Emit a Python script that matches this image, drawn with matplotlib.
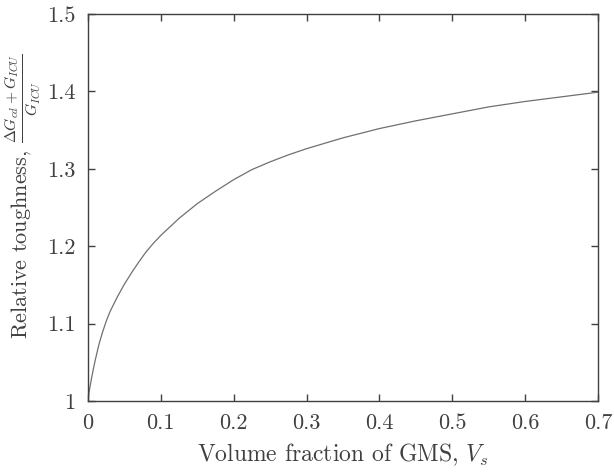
import matplotlib
matplotlib.use("Agg")
import matplotlib.pyplot as plt

plt.rcParams['font.family'] = 'serif'
plt.rcParams['font.serif'] = ['cmr10']
plt.rcParams['mathtext.fontset'] = 'cm'
plt.rcParams['axes.unicode_minus'] = False

# relative toughness vs GMS volume fraction
vs = [0, 0.001, 0.0025, 0.005, 0.0075, 0.01, 0.015, 0.02, 0.025, 0.03,
      0.04, 0.05, 0.06, 0.07, 0.08, 0.09, 0.1, 0.125, 0.15, 0.175, 0.2,
      0.225, 0.25, 0.275, 0.3, 0.35, 0.4, 0.45, 0.5, 0.55, 0.6, 0.65, 0.7]
toughness = [1.000, 1.008, 1.017, 1.030, 1.042, 1.053, 1.073, 1.089, 1.103,
             1.115, 1.134, 1.151, 1.166, 1.180, 1.193, 1.204, 1.214, 1.236,
             1.255, 1.271, 1.286, 1.299, 1.309, 1.318, 1.326, 1.340, 1.352,
             1.362, 1.371, 1.380, 1.387, 1.393, 1.399]

xticks = [0, 0.1, 0.2, 0.3, 0.4, 0.5, 0.6, 0.7]
xticklabels = ['0', '0.1', '0.2', '0.3', '0.4', '0.5', '0.6', '0.7']
yticks = [1, 1.1, 1.2, 1.3, 1.4, 1.5]
yticklabels = ['1', '1.1', '1.2', '1.3', '1.4', '1.5']

dark = '#404040'

fig = plt.figure(figsize=(6.14, 4.75), dpi=100)
ax = fig.add_axes([0.1433, 0.1558, 0.8307, 0.8147])

ax.plot(vs, toughness, color='#707070', lw=0.9)

ax.set_xlim(0, 0.7)
ax.set_ylim(1, 1.5)
ax.set_xticks(xticks)
ax.set_xticklabels(xticklabels)
ax.set_yticks(yticks)
ax.set_yticklabels(yticklabels)

ax.tick_params(direction='in', top=True, right=True, length=5, width=1,
               color=dark, labelcolor=dark, labelsize=16, pad=9)
for s in ax.spines.values():
    s.set_color(dark)
    s.set_linewidth(1)

ax.set_xlabel(r'Volume fraction of GMS, $V_s$', fontsize=17, color=dark,
              labelpad=6)
ax.set_ylabel(r'Relative toughness, $\frac{\Delta G_{cd}+G_{ICU}}{G_{ICU}}$',
              fontsize=16, color=dark)
ax.yaxis.set_label_coords(-0.09, 0.53)

fig.savefig('out.png', dpi=100)
